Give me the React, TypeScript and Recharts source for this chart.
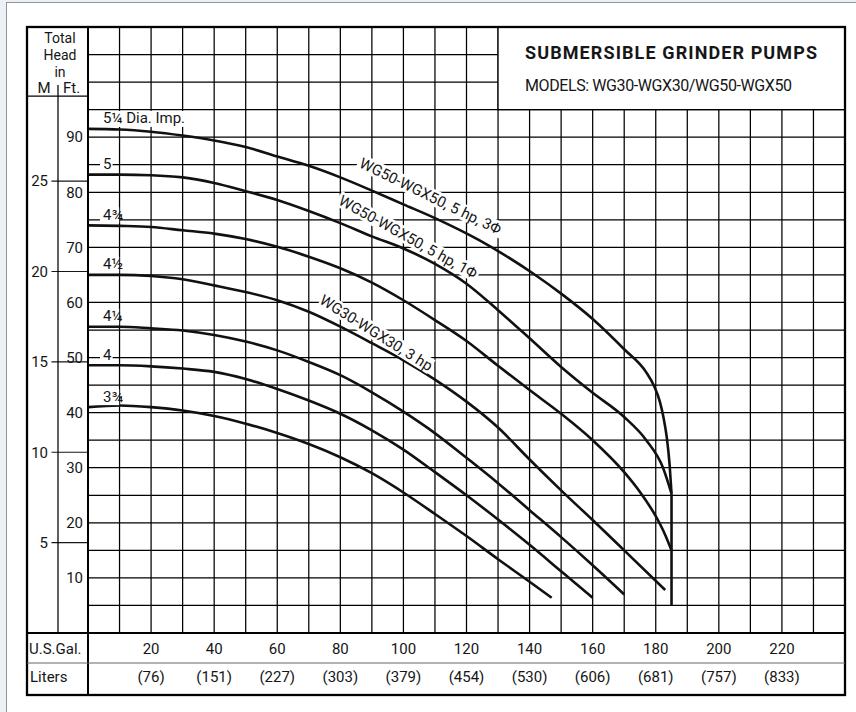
import React from 'react';
import {
  LineChart, Line, XAxis, YAxis, CartesianGrid, ReferenceArea, ReferenceDot,
} from 'recharts';

const FONT = "Roboto, 'Liberation Sans', sans-serif";
const INK = '#161616';

// ─── Axis values ──────────────────────────────────────────────────────────────

const GPM_TICKS = [20, 40, 60, 80, 100, 120, 140, 160, 180, 200, 220];
const LITER_TICKS = ['(76)', '(151)', '(227)', '(303)', '(379)', '(454)', '(530)', '(606)', '(681)', '(757)', '(833)'];
const FT_TICKS = [10, 20, 30, 40, 50, 60, 70, 80, 90];
const M_TICKS = [5, 10, 15, 20, 25];
const GRID_GPM = [10, 20, 30, 40, 50, 60, 70, 80, 90, 100, 110, 120, 130, 140, 150, 160, 170, 180, 190, 200, 210, 220, 230];
const GRID_FT = [5, 10, 15, 20, 25, 30, 35, 40, 45, 50, 55, 60, 65, 70, 75, 80, 85, 90, 95, 100, 105];

const GPM_MAX = 240;
const FT_MAX = 110;
const M_MAX = FT_MAX * 0.3048;

// ─── Impeller curves (gpm / ft of head) ──────────────────────────────────────

const GPM_5Q = [0, 10, 20, 30, 40, 50, 60, 70, 80, 90, 100, 110, 124, 141, 150, 160, 170, 177, 179.5, 181.3, 182.5, 183.5, 184.4, 185];
const FT_5Q = [91.5, 91.4, 91.0, 90.3, 89.4, 88.2, 86.5, 84.8, 82.7, 80.3, 77.8, 75.3, 71.3, 65.3, 61.6, 57.0, 51.5, 47.3, 44.8, 42.0, 39.0, 35.5, 30.5, 25.3];

const GPM_5 = [0, 10, 20, 30, 40, 50, 60, 70, 80, 90, 100, 110, 120, 130, 140, 150, 160, 170, 177, 182.3, 185];
const FT_5 = [83.2, 83.2, 83.1, 82.7, 81.7, 80.2, 78.6, 76.6, 74.4, 72.0, 69.8, 67.0, 63.4, 58.6, 53.5, 48.3, 43.6, 39.2, 35.0, 30.0, 25.3];

const GPM_4TQ = [0, 10, 20, 30, 40, 50, 60, 70, 80, 90, 100, 110, 120, 130, 140, 150, 160, 170, 175, 180, 183, 185];
const FT_4TQ = [74.0, 73.9, 73.7, 73.1, 72.5, 71.5, 70.1, 68.3, 66.2, 63.6, 60.4, 56.8, 53.0, 48.5, 44.1, 39.8, 35.0, 29.2, 25.6, 21.2, 17.8, 15.0];

const GPM_4H = [0, 10, 20, 30, 40, 50, 60, 70, 80, 90, 100, 110, 120, 130, 140, 150, 160, 170, 183];
const FT_4H = [65.0, 65.0, 64.8, 64.2, 63.1, 61.9, 60.4, 58.3, 55.6, 52.6, 49.5, 46.0, 42.0, 37.3, 31.5, 25.9, 20.5, 15.0, 7.8];

const GPM_4Q = [0, 10, 20, 30, 40, 50, 60, 70, 80, 90, 100, 108, 120, 130, 140, 150, 160, 170];
const FT_4Q = [55.6, 55.6, 55.3, 54.9, 54.1, 52.9, 51.3, 49.2, 46.8, 43.7, 40.2, 37.1, 31.8, 27.2, 22.3, 17.4, 12.3, 7.0];

const GPM_4 = [0, 10, 20, 30, 40, 50, 60, 70, 80, 90, 100, 110, 120, 130, 140, 150, 160];
const FT_4 = [48.6, 48.6, 48.4, 48.0, 47.4, 46.1, 44.3, 42.2, 39.8, 36.8, 33.3, 29.2, 25.0, 20.6, 16.0, 11.2, 6.4];

const GPM_3TQ = [0, 10, 20, 30, 40, 50, 60, 70, 80, 90, 100, 110, 120, 130, 140, 147];
const FT_3TQ = [41.0, 41.3, 41.0, 40.4, 39.4, 38.0, 36.3, 34.3, 31.9, 29.0, 25.5, 21.6, 17.6, 13.4, 9.3, 6.4];

// run-out limit of the 5 hp pumps
const RUNOUT_GPM = [185, 185];
const RUNOUT_FT = [25.3, 5];

const CURVES = [
  { dia: '5¼ Dia. Imp.', gpm: GPM_5Q, ft: FT_5Q },
  { dia: '5', gpm: GPM_5, ft: FT_5 },
  { dia: '4¾', gpm: GPM_4TQ, ft: FT_4TQ },
  { dia: '4½', gpm: GPM_4H, ft: FT_4H },
  { dia: '4¼', gpm: GPM_4Q, ft: FT_4Q },
  { dia: '4', gpm: GPM_4, ft: FT_4 },
  { dia: '3¾', gpm: GPM_3TQ, ft: FT_3TQ },
];

const MODEL_TAGS = [
  { text: 'WG50-WGX50, 5 hp, 3Φ', gpm: 108.6, ft: 79.3, angle: 26 },
  { text: 'WG50-WGX50, 5 hp, 1Φ', gpm: 101.5, ft: 71.9, angle: 29 },
  { text: 'WG30-WGX30, 3 hp', gpm: 91.4, ft: 54.5, angle: 32 },
];

const toPoints = (gpm: number[], ft: number[]) => gpm.map((g, i) => ({ gpm: g, ft: ft[i] }));

// ─── Ticks & labels ───────────────────────────────────────────────────────────

const txt = { fontFamily: FONT, fontSize: 15, fill: INK };
const head = { fontFamily: FONT, fontSize: 14, fill: INK };

function GalTick({ x, y, payload }: any) {
  const i = GPM_TICKS.indexOf(payload.value);
  return (
    <g>
      <text x={x} y={y + 21} textAnchor="middle" {...txt}>{payload.value}</text>
      <text x={x} y={y + 49} textAnchor="middle" {...txt}>{LITER_TICKS[i]}</text>
    </g>
  );
}

function FtTick({ x, y, payload }: any) {
  return <text x={x - 5} y={y + 5.3} textAnchor="end" {...txt}>{payload.value}</text>;
}

function MTick({ x, y, payload }: any) {
  return (
    <g>
      <line x1={x - 6.5} x2={x + 30} y1={y} y2={y} stroke={INK} strokeWidth={1.2} />
      <text x={x - 10} y={y + 5.3} textAnchor="end" {...txt}>{payload.value}</text>
    </g>
  );
}

function DiaTag({ cx, cy, text }: any) {
  const w = text.length * 6.6 + 6;
  return (
    <g>
      <rect x={cx + 12} y={cy - 18} width={w} height={16} fill="#fff" />
      <text x={cx + 15} y={cy - 5.5} {...txt}>{text}</text>
    </g>
  );
}

function ModelTag({ cx, cy, text, angle }: any) {
  const w = text.length * 7.6 + 8;
  return (
    <g transform={`rotate(${angle} ${cx} ${cy})`}>
      <rect x={cx - w / 2} y={cy - 8} width={w} height={16} fill="#fff" />
      <text x={cx} y={cy + 5.3} textAnchor="middle" {...txt}>{text}</text>
    </g>
  );
}

// ─── Chart ────────────────────────────────────────────────────────────────────

export default function App() {
  return (
    <div style={{ position: 'absolute', left: 0, top: 0, width: 856, height: 712, background: '#eef1f4', overflow: 'hidden' }}>
      <div style={{ position: 'absolute', left: 6, top: 2, width: 850, height: 710, background: '#fff', borderLeft: '1px solid #8796a4', borderTop: '1px solid #8796a4' }} />
      <div style={{ position: 'absolute', left: 0, top: 0 }}>
        <LineChart width={856} height={712} margin={{ top: 27, right: 11, bottom: 17, left: 27 }}>
          <CartesianGrid
            xAxisId="gpm" yAxisId="ft"
            horizontalValues={GRID_FT} verticalValues={GRID_GPM}
            stroke="#000" strokeWidth={1.25}
          />
          <XAxis
            xAxisId="gpm" dataKey="gpm" type="number" domain={[0, GPM_MAX]} ticks={GPM_TICKS}
            interval={0} height={62} axisLine={false} tickLine={false} tickSize={0} tickMargin={0}
            tick={(p: any) => <GalTick {...p} />} allowDataOverflow
          />
          <YAxis
            yAxisId="ft" type="number" domain={[0, FT_MAX]} ticks={FT_TICKS} interval={0} width={30}
            axisLine={false} tickLine={false} tickSize={0} tickMargin={0}
            tick={(p: any) => <FtTick {...p} />} allowDataOverflow
          />
          <YAxis
            yAxisId="m" type="number" domain={[0, M_MAX]} ticks={M_TICKS} interval={0} width={31}
            axisLine={false} tickLine={false} tickSize={0} tickMargin={0}
            tick={(p: any) => <MTick {...p} />} allowDataOverflow
          />
          <ReferenceArea
            xAxisId="gpm" yAxisId="ft" x1={130} x2={GPM_MAX} y1={95} y2={FT_MAX}
            fill="#fff" fillOpacity={1} stroke="#000" strokeWidth={1.25}
          />
          {CURVES.map((c) => (
            <Line
              key={c.dia} xAxisId="gpm" yAxisId="ft" data={toPoints(c.gpm, c.ft)} dataKey="ft"
              type="monotone" stroke="#111" strokeWidth={2.6} dot={false} activeDot={false}
              isAnimationActive={false}
            />
          ))}
          <Line
            xAxisId="gpm" yAxisId="ft" data={toPoints(RUNOUT_GPM, RUNOUT_FT)} dataKey="ft"
            type="linear" stroke="#111" strokeWidth={2.6} dot={false} activeDot={false}
            isAnimationActive={false}
          />
          {CURVES.map((c) => (
            <ReferenceDot
              key={'d' + c.dia} xAxisId="gpm" yAxisId="ft" x={c.gpm[0]} y={c.ft[0]} r={0}
              shape={(p: any) => <DiaTag cx={p.cx} cy={p.cy} text={c.dia} />}
            />
          ))}
          {MODEL_TAGS.map((m) => (
            <ReferenceDot
              key={m.text} xAxisId="gpm" yAxisId="ft" x={m.gpm} y={m.ft} r={0}
              shape={(p: any) => <ModelTag cx={p.cx} cy={p.cy} text={m.text} angle={m.angle} />}
            />
          ))}
        </LineChart>
      </div>
      <svg width={856} height={712} style={{ position: 'absolute', left: 0, top: 0, pointerEvents: 'none' }}>
        <g stroke="#000" fill="none">
          <rect x={27} y={27} width={818} height={668} strokeWidth={2.3} />
          <line x1={88} y1={27} x2={88} y2={695} strokeWidth={2} />
          <line x1={27} y1={633} x2={845} y2={633} strokeWidth={2} />
          <line x1={27} y1={96} x2={88} y2={96} strokeWidth={1.25} />
          <line x1={58} y1={85} x2={58} y2={633} strokeWidth={1.25} />
          <line x1={27} y1={663} x2={845} y2={663} stroke="#666" strokeWidth={1.2} />
        </g>
        <text x={60} y={42.5} textAnchor="middle" {...head}>Total</text>
        <text x={60} y={59.5} textAnchor="middle" {...head}>Head</text>
        <text x={60} y={76.5} textAnchor="middle" {...head}>in</text>
        <text x={44} y={93} textAnchor="middle" {...txt}>M</text>
        <text x={63} y={93} {...txt}>Ft.</text>
        <text x={29} y={654} {...txt}>U.S.Gal.</text>
        <text x={30} y={682} {...txt}>Liters</text>
        <text x={525} y={59} textLength={292} fontWeight={700} {...txt} fontSize={18}>SUBMERSIBLE GRINDER PUMPS</text>
        <text x={525} y={91} textLength={267} {...txt} fontSize={16}>MODELS: WG30-WGX30/WG50-WGX50</text>
      </svg>
    </div>
  );
}
